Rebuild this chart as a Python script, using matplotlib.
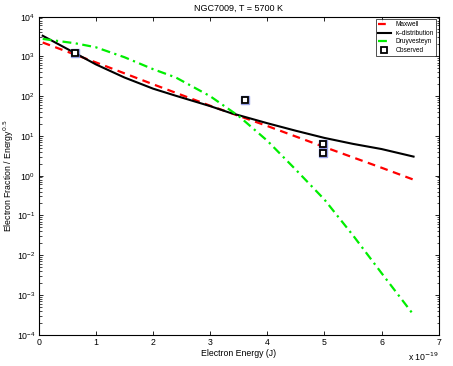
import numpy as np
import matplotlib
matplotlib.use("Agg")
import matplotlib.pyplot as plt
from matplotlib.ticker import LogLocator, NullFormatter, NullLocator, FixedLocator

# energies in units of 1e-19 J, values read as log10(y)
kappa_x = [0.07, 0.64, 1.0, 1.5, 2.0, 2.4, 3.0, 3.33, 4.0, 4.5, 5.0, 5.5, 6.0, 6.56]
kappa_log = [3.52, 3.08, 2.80, 2.47, 2.19, 2.01, 1.75, 1.59, 1.32, 1.13, 0.95, 0.80, 0.67, 0.48]

maxwell_x = [0.07, 1.0, 2.0, 3.0, 4.0, 5.0, 6.0, 6.56]
maxwell_log = [3.35, 2.85, 2.30, 1.76, 1.25, 0.72, 0.20, -0.10]

druy_x = [0.07, 0.64, 1.0, 1.5, 2.0, 2.4, 3.0, 3.5, 4.0, 4.5, 5.0, 5.5, 6.0, 6.56]
druy_log = [3.44, 3.33, 3.23, 2.98, 2.68, 2.47, 2.00, 1.50, 0.88, 0.15, -0.60, -1.50, -2.45, -3.50]

obs_x = [0.64, 3.61, 4.98, 4.98]
obs_y = [1200, 80, 6.3, 3.7]

plt.rcParams['font.family'] = ['Liberation Sans', 'DejaVu Sans']

fig = plt.figure(figsize=(4.53, 3.66), dpi=100)
ax = fig.add_axes([0.0854, 0.0855, 0.8830, 0.8690])

ax.plot(maxwell_x, 10.0 ** np.array(maxwell_log), color='red', ls=(0, (3.5, 2.5)), lw=1.6, label='Maxwell')
ax.plot(kappa_x, 10.0 ** np.array(kappa_log), color='black', ls='-', lw=1.5, label='\u03ba\u2013distribution')
ax.plot(druy_x, 10.0 ** np.array(druy_log), color='#00ee00', ls=(0, (4, 2, 1, 2)), lw=1.6, label='Druyvesteyn')
ax.plot(obs_x, obs_y, ls='none', marker='s', ms=5.5, mfc='none', mec='#6a78e0', mew=1.0, alpha=0.7)
ax.plot(obs_x, obs_y, ls='none', marker='s', ms=4.0, mfc='white', mec='black', mew=1.3, label='Observed')

ax.set_yscale('log')
ax.set_xlim(0, 7)
ax.set_ylim(1e-4, 1e4)
ax.xaxis.set_major_locator(FixedLocator(range(8)))
ax.xaxis.set_minor_locator(NullLocator())
ax.yaxis.set_major_locator(LogLocator(base=10, numticks=20))
ax.yaxis.set_minor_locator(LogLocator(base=10, subs=np.arange(2, 10), numticks=20))
ax.yaxis.set_minor_formatter(NullFormatter())
ax.xaxis.get_offset_text().set_visible(False)
ax.yaxis.get_offset_text().set_visible(False)
ax.tick_params(which='both', direction='in', top=True, right=True, labelsize=6.3, pad=2.5)
ax.tick_params(which='major', length=3, width=0.6)
ax.tick_params(which='minor', length=1.8, width=0.5)
for s in ax.spines.values():
    s.set_linewidth(0.8)

ax.set_xlabel('Electron Energy (J)', fontsize=6.3, labelpad=1.5)
ax.set_ylabel('Electron Fraction / Energy$^{0.5}$', fontsize=6.3, labelpad=0.5)
ax.set_title('NGC7009, T = 5700 K', fontsize=6.5, pad=4)
ax.text(1.0, -0.07, r'x 10$^{-19}$', transform=ax.transAxes, ha='right', va='center', fontsize=6.3)

leg = ax.legend(loc='upper right', fontsize=4.7, frameon=True, fancybox=False, edgecolor='black',
                handlelength=2.0, handletextpad=0.8, borderpad=0.3, labelspacing=0.25,
                borderaxespad=0.4)
leg.get_frame().set_linewidth(0.6)

fig.savefig('out.png', dpi=100)
